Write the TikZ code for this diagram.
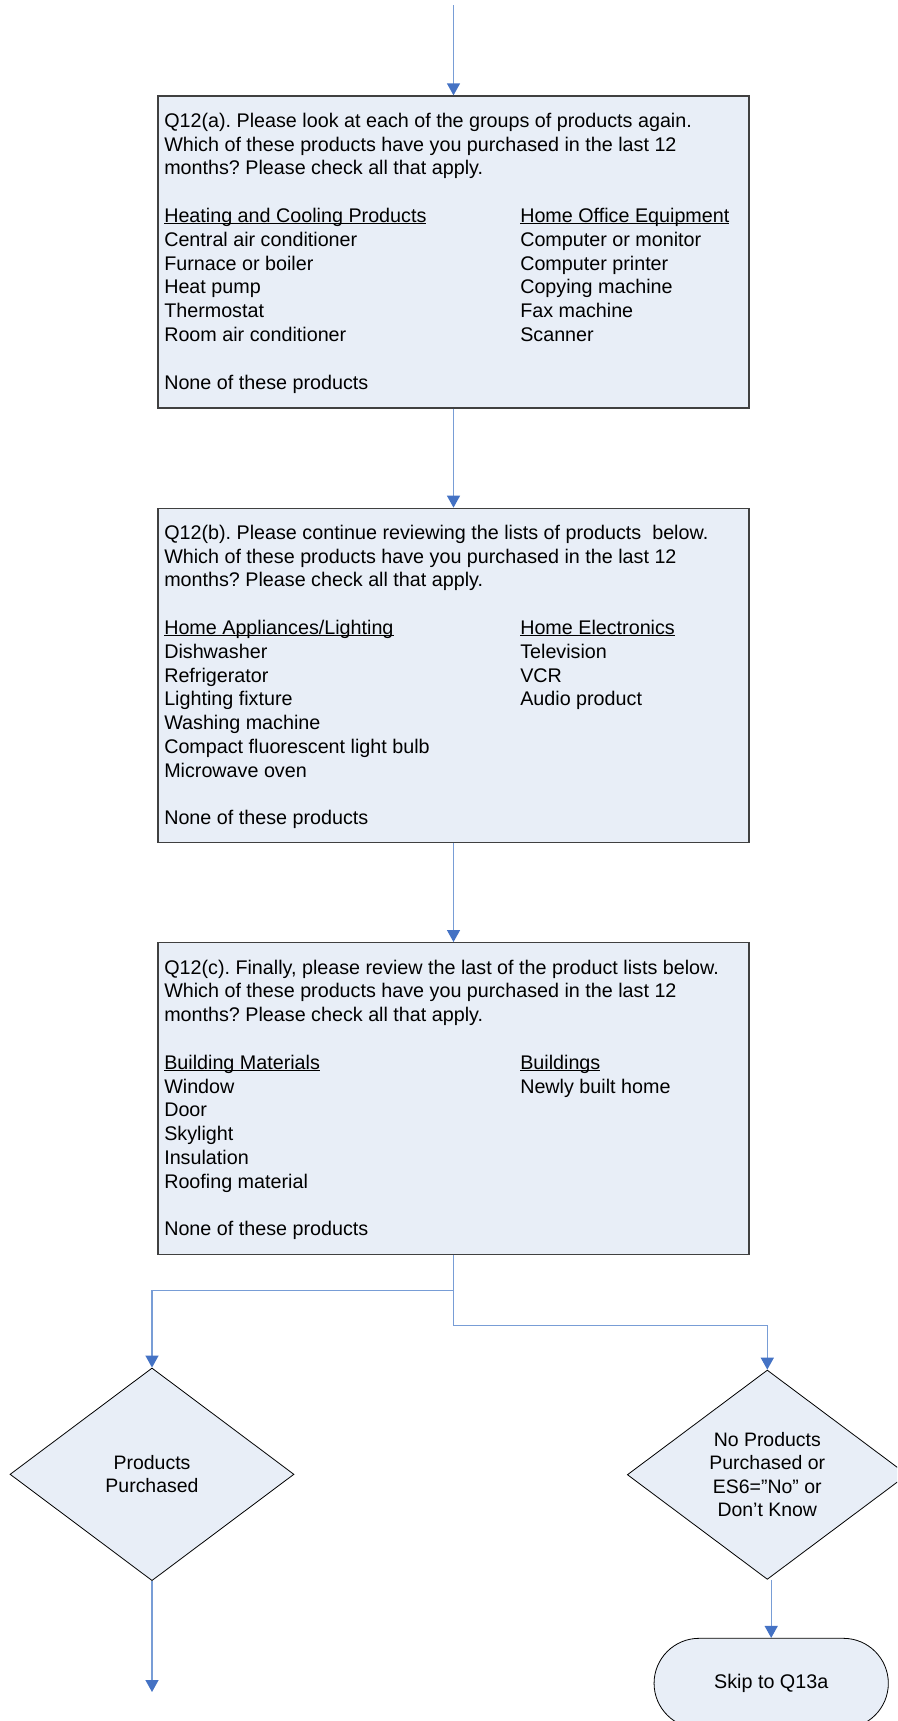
\documentclass[tikz,border=0pt]{standalone}
\usepackage{fontspec}
\setmainfont{Liberation Sans}
\usetikzlibrary{shapes.geometric,arrows.meta}
\definecolor{boxfill}{RGB}{232,238,247}
\definecolor{boxline}{RGB}{64,64,64}
\definecolor{conline}{RGB}{120,157,214}
\definecolor{tipblue}{RGB}{68,114,196}
\newcommand{\uln}[1]{\leavevmode\setbox0\hbox{#1}\rlap{\rule[-1.4pt]{\wd0}{0.8pt}}#1}
\newcommand{\ql}[1]{\multicolumn{2}{@{}l@{}}{#1}}
\frenchspacing
\tikzset{
 qbox/.style={draw=boxline, line width=1pt, fill=boxfill, rectangle, minimum width=443.25pt, inner sep=0pt},
 decbox/.style={draw=black, line width=0.6pt, fill=boxfill, diamond, inner sep=0pt},
 termbox/.style={draw=black, line width=0.6pt, fill=boxfill, rectangle, rounded corners=33.75pt, minimum width=175.7pt, minimum height=67.5pt, inner sep=0pt},
 con/.style={draw=conline, line width=1pt, -{Triangle[width=9.75pt,length=9pt,color=tipblue]}},
 qtext/.style={anchor=base west, inner sep=0pt, font=\fontsize{14.8pt}{17.85pt}\selectfont},
 dtext/.style={align=center, inner sep=0pt, font=\fontsize{14.6pt}{17.55pt}\selectfont},
}
\begin{document}
\begin{tikzpicture}[x=0.75pt,y=-0.75pt]
\useasboundingbox (0,0) rectangle (897,1721);
\clip (0,0) rectangle (897,1721);

% boxes
\node[qbox, minimum height=234pt] (b1) at (453.5,252) {};
\node[qbox, minimum height=250.5pt] (b2) at (453.5,675.3) {};
\node[qbox, minimum height=233.7pt] (b3) at (453.5,1098.5) {};

\node[qtext] (t1) at (164,127.3) {\begin{tabular}[t]{@{}p{267pt}@{}l@{}}
\ql{Q12(a). Please look at each of the groups of products again.}\\
\ql{Which of these products have you purchased in the last 12}\\
\ql{months? Please check all that apply.}\\
 & \\
\uln{Heating and Cooling Products} & \uln{Home Office Equipment}\\
Central air conditioner & Computer or monitor\\
Furnace or boiler & Computer printer\\
Heat pump & Copying machine\\
Thermostat & Fax machine\\
Room air conditioner & Scanner\\
 & \\
None of these products & 
\end{tabular}};

\node[qtext] (t2) at (164,539.3) {\begin{tabular}[t]{@{}p{267pt}@{}l@{}}
\ql{Q12(b). Please continue reviewing the lists of products\ \ below.}\\
\ql{Which of these products have you purchased in the last 12}\\
\ql{months? Please check all that apply.}\\
 & \\
\uln{Home Appliances/Lighting} & \uln{Home Electronics}\\
Dishwasher & Television\\
Refrigerator & VCR\\
Lighting fixture & Audio product\\
Washing machine & \\
Compact fluorescent light bulb & \\
Microwave oven & \\
 & \\
None of these products & 
\end{tabular}};

\node[qtext] (t3) at (164,974) {\begin{tabular}[t]{@{}p{267pt}@{}l@{}}
\ql{Q12(c). Finally, please review the last of the product lists below.}\\
\ql{Which of these products have you purchased in the last 12}\\
\ql{months? Please check all that apply.}\\
 & \\
\uln{Building Materials} & \uln{Buildings}\\
Window & Newly built home\\
Door & \\
Skylight & \\
Insulation & \\
Roofing material & \\
 & \\
None of these products & 
\end{tabular}};

% decisions
\node[decbox, minimum width=213pt, minimum height=159.5pt] (ld) at (152,1474.3) {};
\node[dtext] (ldt) at (ld.center) {Products\\Purchased};
\node[decbox, minimum width=210pt, minimum height=157pt] (rd) at (767.3,1474.7) {};
\node[dtext] (rdt) at (rd.center) {No Products\\Purchased or\\ES6=”No” or\\Don’t Know};

\node[termbox, font=\fontsize{14.8pt}{17.85pt}\selectfont] (sk) at (771.2,1683.3) {Skip to Q13a};

% connectors
\coordinate (top) at (453.5,5);
\coordinate (lend) at (152,1692);
\draw[con] (top) -- (b1.north);
\draw[con] (b1.south) -- (b2.north);
\draw[con] (b2.south) -- (b3.north);
\draw[con] (b3.south) -- ++(0,35.7) -| (ld.north);
\draw[con] (b3.south) -- ++(0,70.7) -| (rd.north);
\draw[con] (ld.south) -- (lend);
\draw[con] (rd.south -| sk.north) -- (sk.north);
\end{tikzpicture}
\end{document}
